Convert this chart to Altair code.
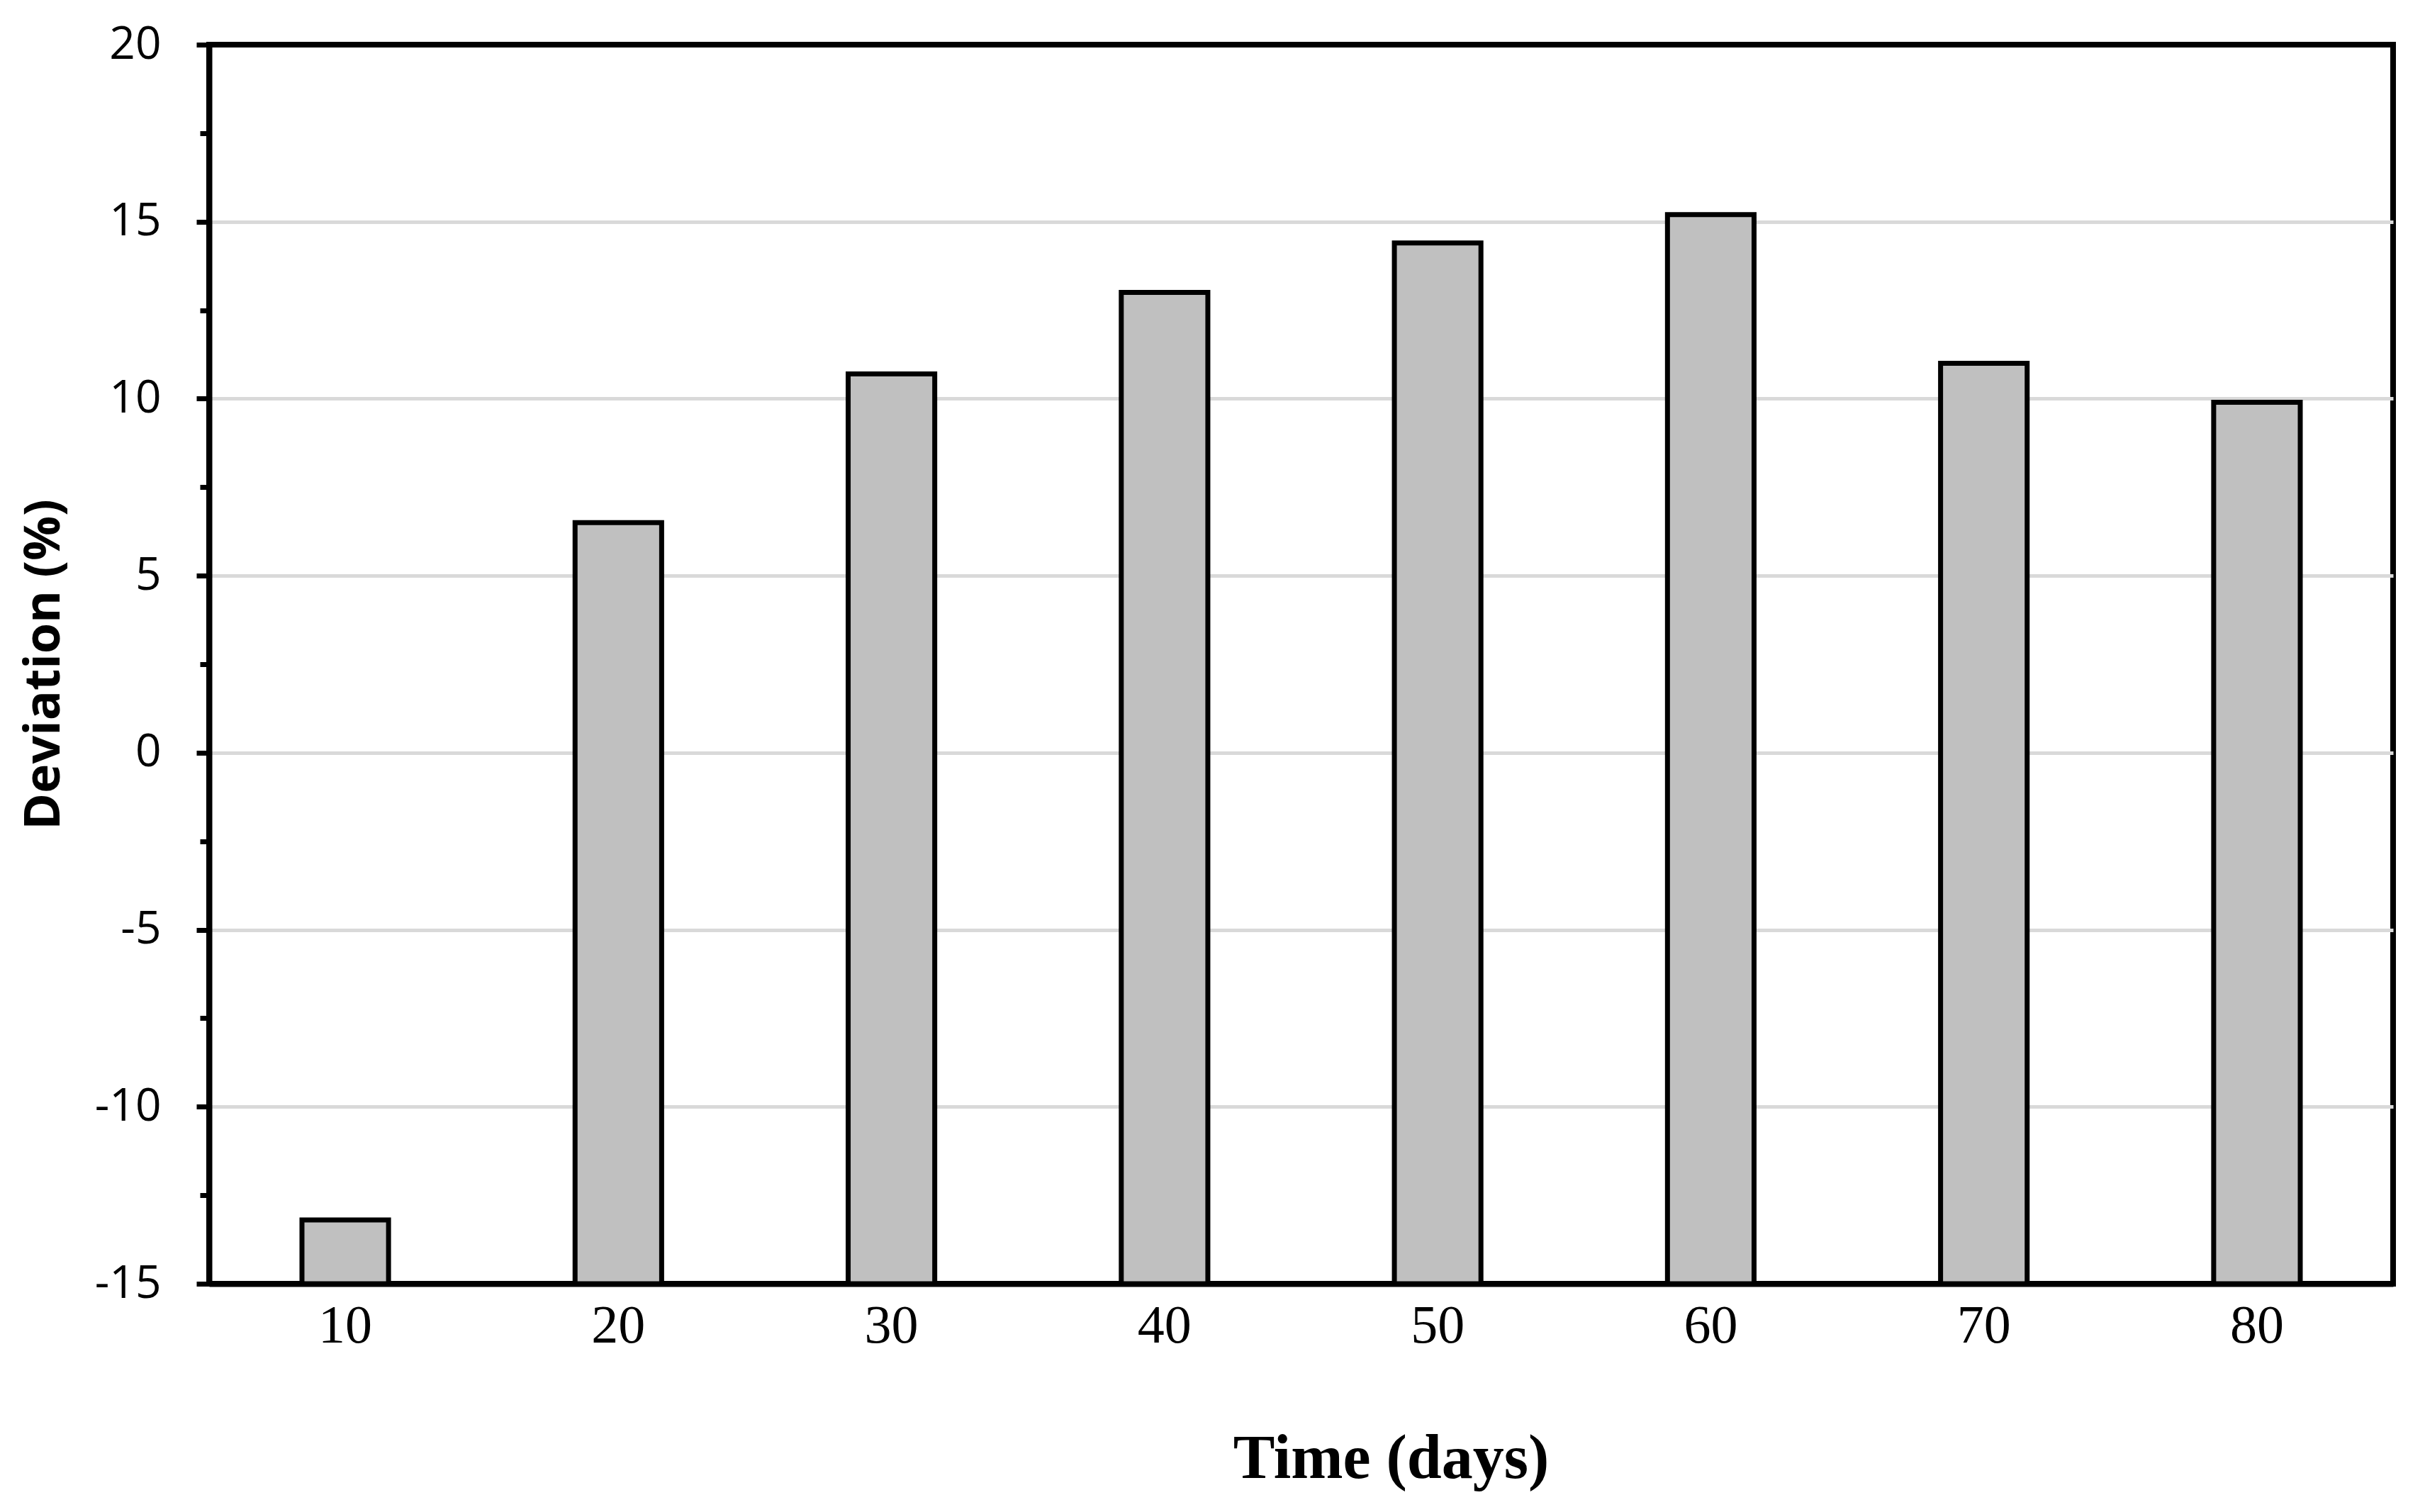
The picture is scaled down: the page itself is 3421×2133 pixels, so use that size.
import altair as alt
import pandas as pd

days = ["10", "20", "30", "40", "50", "60", "70", "80"]
deviation = [-13.2, 6.5, 10.7, 13.0, 14.4, 15.2, 11.0, 9.9]
major_ticks = [-15, -10, -5, 0, 5, 10, 15, 20]
minor_ticks = [-12.5, -7.5, -2.5, 2.5, 7.5, 12.5, 17.5]

df = pd.DataFrame({"day": days, "dev": deviation})

W, H = 3081, 1748

x_enc = alt.X(
    "day:N",
    sort=days,
    scale=alt.Scale(paddingInner=0.683, paddingOuter=0.34),
    axis=alt.Axis(
        title="Time (days)",
        titleFont="Liberation Serif",
        titleFontSize=88,
        titleFontWeight="bold",
        titleColor="black",
        titleX=1667,
        titleY=247,
        titleBaseline="middle",
        titleAlign="center",
        labelFont="Liberation Serif",
        labelFontSize=76,
        labelColor="black",
        labelPadding=22,
        labelAngle=0,
        ticks=False,
        domainColor="black",
        domainWidth=8,
        grid=False,
    ),
)

y_scale = alt.Scale(domain=[-15, 20], nice=False, zero=False)

bars = alt.Chart(df).mark_bar(
    color="#c0c0c0", stroke="black", strokeWidth=7
).encode(
    x=x_enc,
    y=alt.Y(
        "dev:Q",
        scale=y_scale,
        axis=alt.Axis(
            orient="left",
            values=major_ticks,
            labelExpr="datum.value < 0 ? '-' + abs(datum.value) : '' + datum.value",
            title="Deviation (%)",
            titleFont="Open Sans",
            titleFontSize=70,
            titleFontWeight="bold",
            titleColor="black",
            titleX=-233,
            titleY=H / 2,
            titleAngle=270,
            titleAlign="center",
            titleBaseline="middle",
            labelFont="Open Sans",
            labelFontSize=64,
            labelColor="black",
            labelPadding=50,
            tickSize=18,
            tickWidth=7,
            tickColor="black",
            domainColor="black",
            domainWidth=8,
            grid=True,
            gridColor="#d9d9d9",
            gridWidth=5,
            gridOpacity={
                "condition": {"test": "datum.value == 20 || datum.value == -15", "value": 0},
                "value": 1,
            },
        ),
    ),
    y2=alt.datum(-15),
)

minor = alt.Chart(df).mark_bar(opacity=0).encode(
    x=x_enc,
    y=alt.Y(
        "dev:Q",
        scale=y_scale,
        axis=alt.Axis(
            orient="left",
            values=minor_ticks,
            title=None,
            labels=False,
            grid=False,
            domain=False,
            tickSize=13,
            tickWidth=7,
            tickColor="black",
        ),
    ),
    y2=alt.datum(-15),
)

chart = (
    alt.layer(bars, minor)
    .resolve_axis(y="independent")
    .properties(
        width=W,
        height=H,
        autosize=alt.AutoSizeParams(type="none"),
        padding={"left": 287, "top": 55, "right": 37, "bottom": 314},
    )
    .configure_view(stroke="black", strokeWidth=8)
)

chart.save("out.html", embed_options={"renderer": "svg", "actions": False})
